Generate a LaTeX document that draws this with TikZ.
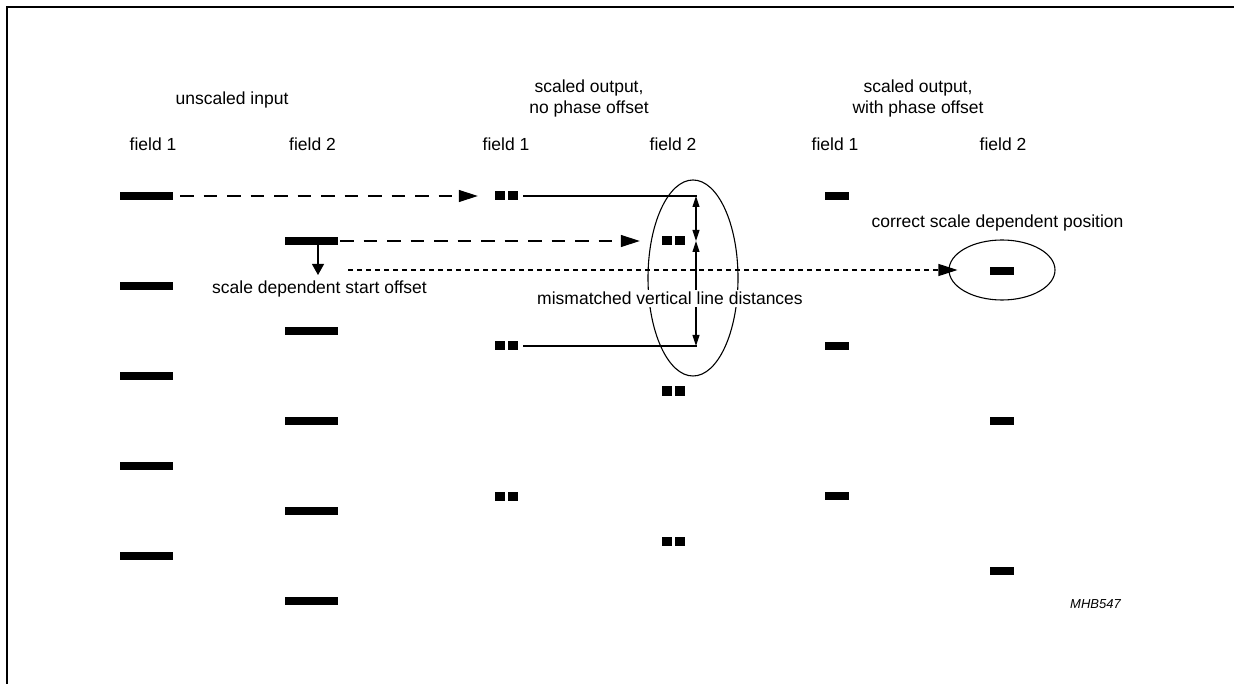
\documentclass[tikz,border=0pt]{standalone}
\usepackage{fontspec}
\setmainfont{Liberation Sans}
\usetikzlibrary{arrows.meta,shapes.geometric}
\begin{document}
\begin{tikzpicture}[x=1pt,y=-1pt,
  every node/.style={font=\fontsize{17.5}{21}\selectfont},
  lbl/.style={inner sep=0pt, anchor=base},
  bar/.style={fill=black, inner sep=0pt, minimum width=53pt, minimum height=8.5pt},
  sbar/.style={fill=black, inner sep=0pt, minimum width=24pt, minimum height=8.5pt},
  sq/.style={fill=black, inner sep=0pt, minimum width=10pt, minimum height=9pt},
  ln/.style={line width=1.1pt},
  ldash/.style={ln, dash pattern=on 13.5pt off 10pt},
  sdash/.style={ln, dash pattern=on 5pt off 4pt},
  bigtip/.style={-{Triangle[length=19pt,width=12pt]}},
  downtip/.style={-{Triangle[length=11pt,width=12pt]}},
  smalltips/.style={{Triangle[length=11pt,width=7pt]}-{Triangle[length=11pt,width=7pt]}},
  oval/.style={draw, ellipse, ln, inner sep=0pt},
  frame/.style={line width=1.6pt}
]
\useasboundingbox (0,0) rectangle (1234,684);
% frame
\coordinate (fbl) at (7,690);
\coordinate (ftl) at (7,7);
\coordinate (ftr) at (1240,7);
\draw[frame] (fbl) -- (ftl) -- (ftr);

% headings
\node[lbl] (h1) at (232,105) {unscaled input};
\node[lbl] (h2a) at (589,93) {scaled output,};
\node[lbl] (h2b) at (589,114) {no phase offset};
\node[lbl] (h3a) at (918,93) {scaled output,};
\node[lbl] (h3b) at (918,114) {with phase offset};
\node[lbl] (f1) at (153,151) {field 1};
\node[lbl] (f2) at (312.5,151) {field 2};
\node[lbl] (f3) at (506,151) {field 1};
\node[lbl] (f4) at (673,151) {field 2};
\node[lbl] (f5) at (835,151) {field 1};
\node[lbl] (f6) at (1003,151) {field 2};

% unscaled input field 1
\node[bar] (ua1) at (146.5,196) {};
\node[bar] (ua2) at (146.5,286) {};
\node[bar] (ua3) at (146.5,376) {};
\node[bar] (ua4) at (146.5,466) {};
\node[bar] (ua5) at (146.5,556) {};
% unscaled input field 2
\node[bar] (ub1) at (311.5,241) {};
\node[bar] (ub2) at (311.5,331) {};
\node[bar] (ub3) at (311.5,421) {};
\node[bar] (ub4) at (311.5,511) {};
\node[bar] (ub5) at (311.5,601) {};

% scaled, no phase offset, field 1
\node[sq] (na1) at (500,196) {};
\node[sq] (na1r) at (513,196) {};
\node[sq] (na2) at (500,346) {};
\node[sq] (na2r) at (513,346) {};
\node[sq] (na3) at (500,496) {};
\node[sq] (na3r) at (513,496) {};
% field 2
\node[sq] (nb1) at (667,241) {};
\node[sq] (nb1r) at (680,241) {};
\node[sq] (nb2) at (667,391) {};
\node[sq] (nb2r) at (680,391) {};
\node[sq] (nb3) at (667,541) {};
\node[sq] (nb3r) at (680,541) {};

% scaled, with phase offset
\node[sbar] (pa1) at (837,196) {};
\node[sbar] (pa2) at (837,346) {};
\node[sbar] (pa3) at (837,496) {};
\node[sbar] (pb1) at (1002,271) {};
\node[sbar] (pb2) at (1002,421) {};
\node[sbar] (pb3) at (1002,571) {};

% ellipses
\node[oval, minimum width=90pt, minimum height=196pt] (e1) at (693,278) {};
\node[oval, minimum width=106pt, minimum height=60pt] (e2) at (1002,270) {};

% dashed arrows
\draw[ldash, bigtip, shorten <=7pt, shorten >=17pt] (ua1.east) -- (na1.west);
\draw[ldash, bigtip, shorten <=2pt, shorten >=22pt] (ub1.east) -- (nb1.west);

% start offset arrow
\coordinate (dtop) at (318,245);
\coordinate (dbot) at (318,275);
\draw[ln, downtip] (dtop) -- (dbot);
\coordinate (sstart) at (348,270);
\draw[sdash, bigtip, shorten >=-9pt] (sstart) -- (sstart -| e2.west);

% solid lines and distance arrows
\coordinate (m1) at (697,196);
\coordinate (mm) at (696,241);
\coordinate (m2) at (697,346);
\draw[ln, shorten <=5pt] (na1r.east) -- (m1);
\draw[ln, shorten <=5pt] (na2r.east) -- (m2);
\draw[ln, smalltips] (m1 -| mm) -- (mm);
\draw[ln, smalltips] (mm) -- (m2 -| mm);

% labels
\node[lbl, fill=white, inner xsep=0pt, inner ysep=2pt] (mis) at (670,305) {mismatched vertical line distances};
\node[lbl] (sdso) at (319.5,294) {scale dependent start offset};
\node[lbl] (csdp) at (997.5,228) {correct scale dependent position};
\node[lbl, font=\fontsize{13}{15}\selectfont\itshape] (id) at (1095.5,608) {MHB547};
\end{tikzpicture}
\end{document}
